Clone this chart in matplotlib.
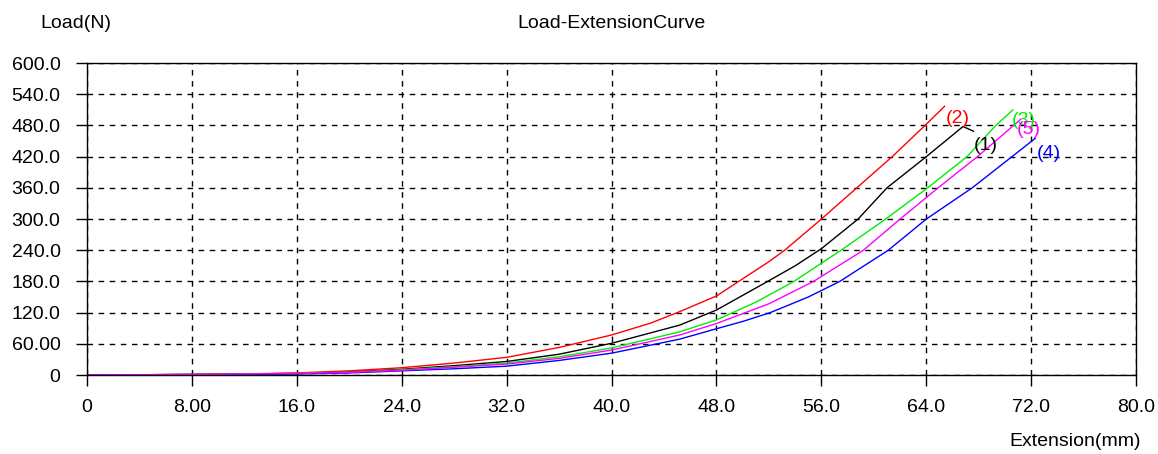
import matplotlib.pyplot as plt

# extension (mm) / load (N)
ext_1 = [0, 8, 12, 16, 20, 24, 28, 32, 36, 40, 45.2, 48, 51.9, 54, 56, 58.8, 61.0, 64.0, 66.8, 67.6]
load_1 = [0, 1, 2, 3, 6, 11, 18, 26, 40, 61, 96, 125, 180, 210, 243, 300, 360, 420, 478, 469]

ext_2 = [0, 8, 12, 16, 20, 24, 28, 32, 36, 40, 43, 45.2, 48, 50, 52, 53.2, 56.0, 58.7, 61.4, 63.9, 65.4]
load_2 = [0, 1, 2, 4, 8, 14, 23, 34, 53, 77, 100, 122, 152, 185, 218, 240, 300, 360, 420, 480, 517]

ext_3 = [0, 8, 12, 16, 20, 24, 28, 32, 36, 40, 45.2, 48, 51, 53.9, 57.5, 60.9, 64.1, 67.1, 69.3, 70.6]
load_3 = [0, 1, 2, 3, 5, 10, 16, 23, 35, 52, 83, 106, 140, 180, 240, 300, 360, 420, 480, 510]

ext_4 = [0, 8, 12, 16, 20, 24, 28, 32, 36, 40, 45.2, 48, 50, 52.1, 55, 57.4, 61.1, 64.0, 67.5, 72.3]
load_4 = [0, 1, 1, 2, 4, 8, 12, 17, 28, 42, 69, 89, 103, 120, 150, 180, 240, 300, 360, 455]

ext_5 = [0, 8, 12, 16, 20, 24, 28, 32, 36, 40, 45.2, 48, 52, 55.4, 59.2, 62.0, 64.9, 67.9, 71.2]
load_5 = [0, 1, 2, 3, 5, 9, 15, 21, 32, 48, 77, 99, 137, 180, 240, 300, 360, 420, 492]

curve_names = ["(1)", "(2)", "(3)", "(4)", "(5)"]
label_pos = [(67.6, 442), (65.5, 494), (70.5, 490), (72.4, 427), (70.9, 472)]

x_ticks = [0, 8, 16, 24, 32, 40, 48, 56, 64, 72, 80]
x_labels = ["0", "8.00", "16.0", "24.0", "32.0", "40.0", "48.0", "56.0", "64.0", "72.0", "80.0"]
y_ticks = [0, 60, 120, 180, 240, 300, 360, 420, 480, 540, 600]
y_labels = ["0", "60.00", "120.0", "180.0", "240.0", "300.0", "360.0", "420.0", "480.0", "540.0", "600.0"]

plt.rcParams['font.family'] = ['Liberation Sans', 'DejaVu Sans']
fs = 14

fig = plt.figure(figsize=(11.58, 4.54), dpi=100)
ax = fig.add_axes([0.0751, 0.174, 0.906, 0.687])

colors = ["black", "#ff0000", "#00ee00", "#0000ff", "#ff00ff"]
series = [(ext_1, load_1), (ext_2, load_2), (ext_3, load_3), (ext_4, load_4), (ext_5, load_5)]
for (xs, ys), c in zip(series, colors):
    ax.plot(xs, ys, color=c, lw=1)

for name, (lx, ly), c in zip(curve_names, label_pos, colors):
    ax.text(lx, ly, name, color=c, fontsize=fs, ha="left", va="center")

ax.set_xlim(0, 80)
ax.set_ylim(0, 600)
ax.set_xticks(x_ticks)
ax.set_xticklabels(x_labels)
ax.set_yticks(y_ticks)
ax.set_yticklabels(y_labels)
ax.tick_params(labelsize=fs, direction="out", length=8, width=1, colors="black")
ax.tick_params(axis="y", pad=11)
ax.tick_params(axis="x", pad=9)
ax.grid(True, color="black", linestyle=(0, (4, 4)), linewidth=1)
for s in ax.spines.values():
    s.set_linewidth(1)

fig.text(0.528, 0.948, "Load-ExtensionCurve", fontsize=fs, ha="center", va="center")
fig.text(0.035, 0.948, "Load(N)", fontsize=fs, ha="left", va="center")
fig.text(0.985, 0.028, "Extension(mm)", fontsize=fs, ha="right", va="center")

fig.savefig("out.png", dpi=100)
